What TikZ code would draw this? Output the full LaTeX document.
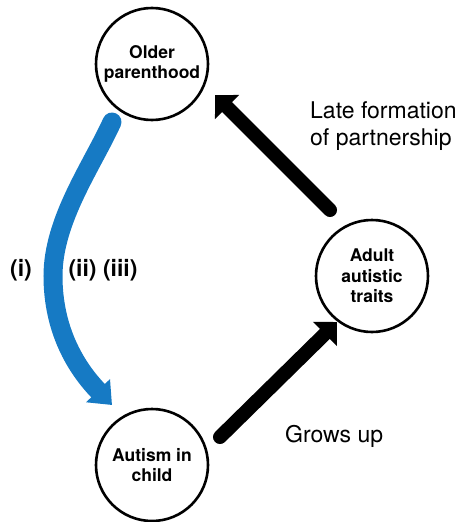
\documentclass[tikz,border=0pt]{standalone}
\usepackage{fontspec}
\setmainfont{TeX Gyre Heros}
\usetikzlibrary{arrows.meta}
\definecolor{pathblue}{RGB}{22,122,196}
\begin{document}
\begin{tikzpicture}[x=1pt,y=-1pt,
  stage/.style={circle,draw,line width=2.6pt,minimum size=112pt,inner sep=0pt,
    align=center,font=\fontsize{17.5}{20.5}\selectfont\bfseries},
  link/.style={line width=14pt,line cap=round,-{Triangle[length=17pt,width=33pt]}},
  effect/.style={pathblue,line width=19pt,line cap=round,-{Triangle[length=20pt,width=32pt]}},
  caption/.style={font=\fontsize{23}{27}\selectfont,align=left,inner sep=0pt},
  pathtag/.style={font=\fontsize{23}{27}\selectfont\bfseries,inner sep=0pt}]
\useasboundingbox (0,0) rectangle (461,522);

% the three stages of the cycle
\node[stage] (older) at (152,64) {Older\\parenthood};
\node[stage] (adult) at (372,276) {Adult\\autistic\\traits};
\node[stage] (child) at (152,465) {Autism in\\child};

% black links of the cycle
\draw[link] ([shift={(-42,-66)}]adult.center) -- ([shift={(63,31)}]older.center);
\draw[link] ([shift={(68,-28)}]child.center) -- ([shift={(-35,46)}]adult.center);

% curved blue link from parent age to autism in the child
\coordinate (bend) at (53,276);
\draw[effect] ([shift={(-40,58)}]older.center)
  .. controls (92,166) and (53,220) .. (bend)
  .. controls (53,330) and (76,368) .. ([shift={(-40,-60)}]child.center);

% labels
\node[caption,anchor=north west] (late) at (310,101) {Late formation\\of partnership};
\node[caption,anchor=base west] (grows) at (285,442) {Grows up};
\node[pathtag] (tagi) at (21,270) {(i)};
\node[pathtag] (tagii) at (103,270) {(ii) (iii)};
\end{tikzpicture}
\end{document}
